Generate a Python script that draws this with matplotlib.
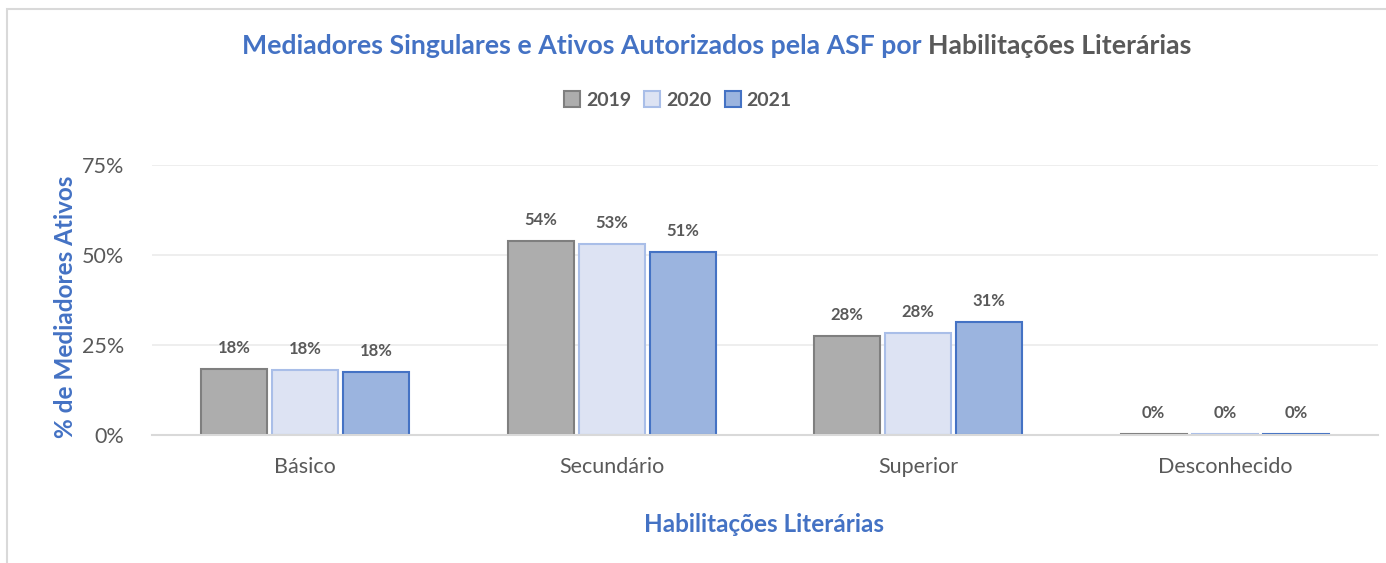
import numpy as np
import matplotlib
matplotlib.use("Agg")
import matplotlib.pyplot as plt
from matplotlib.patches import Rectangle
from matplotlib.lines import Line2D

# dados
categorias = ["Básico", "Secundário", "Superior", "Desconhecido"]
anos = ["2019", "2020", "2021"]
v2019 = [18.3, 53.9, 27.5, 0.2]
v2020 = [18.1, 53.1, 28.3, 0.2]
v2021 = [17.5, 50.8, 31.4, 0.2]
rotulos_y = ["0%", "25%", "50%", "75%"]
ticks_y = [0, 25, 50, 75]

BLUE, DARK = "#4472C4", "#595959"
fills = ["#ADADAD", "#DDE3F3", "#9BB4DF"]
edges = ["#7F7F7F", "#A9BEE8", "#4472C4"]

plt.rcParams["font.family"] = ["Lato", "DejaVu Sans"]

W, H = 1386, 563
fig = plt.figure(figsize=(W / 100, H / 100), dpi=100)
ax = fig.add_axes([152 / W, 1 - 435 / H, (1378 - 152) / W, (435 - 165) / H])

x = np.arange(len(categorias))
bw, step = 0.215, 0.232
for i, vals in enumerate([v2019, v2020, v2021]):
    pos = x + (i - 1) * step
    ax.bar(pos, vals, width=bw, color=fills[i], edgecolor=edges[i],
           linewidth=1.5, zorder=3, label=anos[i])
    for px, v in zip(pos, vals):
        ax.annotate(f"{v:.0f}%", (px, v), xytext=(0, 15), textcoords="offset points",
                    ha="center", va="center", fontsize=12, fontweight="bold",
                    color=DARK)

ax.set_xlim(-0.5, 3.5)
ax.set_ylim(0, 75)
ax.set_yticks(ticks_y)
ax.set_yticklabels(rotulos_y)
ax.set_xticks(x)
ax.set_xticklabels(categorias)
ax.tick_params(axis="both", length=0, labelsize=15.5, labelcolor=DARK)
ax.tick_params(axis="x", pad=16)
ax.tick_params(axis="y", pad=20)
ax.grid(axis="y", color="#EBEBEB", linewidth=1.2, zorder=0)
for s in ["top", "right", "left"]:
    ax.spines[s].set_visible(False)
ax.spines["bottom"].set_color("#D9D9D9")
ax.spines["bottom"].set_linewidth(1.5)
ax.spines["bottom"].set_zorder(4)

# rótulos dos eixos
fig.text(66 / W, 1 - 307 / H, "% de Mediadores Ativos", rotation=90, ha="center",
         va="center", fontsize=17.5, fontweight="bold", color=BLUE)
fig.text(764 / W, 1 - 525 / H, "Habilitações Literárias", ha="center", va="center",
         fontsize=17.5, fontweight="bold", color=BLUE)

# título em duas cores
fig.canvas.draw()
r = fig.canvas.get_renderer()
t1 = fig.text(0, 1 - 46 / H, "Mediadores Singulares e Ativos Autorizados pela ASF por ",
              fontsize=19.2, fontweight="bold", color=BLUE, va="center")
t2 = fig.text(0, 1 - 46 / H, "Habilitações Literárias",
              fontsize=19.2, fontweight="bold", color=DARK, va="center")
w1 = t1.get_window_extent(r).width
w2 = t2.get_window_extent(r).width
x0 = 717 - (w1 + w2) / 2
t1.set_x(x0 / W)
t2.set_x((x0 + w1) / W)

# legenda
handles = [Line2D([], [], marker="s", linestyle="none", markersize=11,
                  markerfacecolor=fills[i], markeredgecolor=edges[i],
                  markeredgewidth=1.5) for i in range(3)]
leg = fig.legend(handles, anos, loc="center", bbox_to_anchor=(678 / W, 1 - 100 / H),
                 ncol=3, frameon=False, handlelength=0.8, handletextpad=0.3,
                 columnspacing=0.7, prop={"size": 14, "weight": "bold"})
for t in leg.get_texts():
    t.set_color(DARK)

# moldura
fig.add_artist(Rectangle((7 / W, -0.1), 1.2, 1 - 9 / H + 0.1, transform=fig.transFigure,
                         fill=False, edgecolor="#D9D9D9", linewidth=1.5))

fig.savefig("out.png", dpi=100, facecolor="white")
